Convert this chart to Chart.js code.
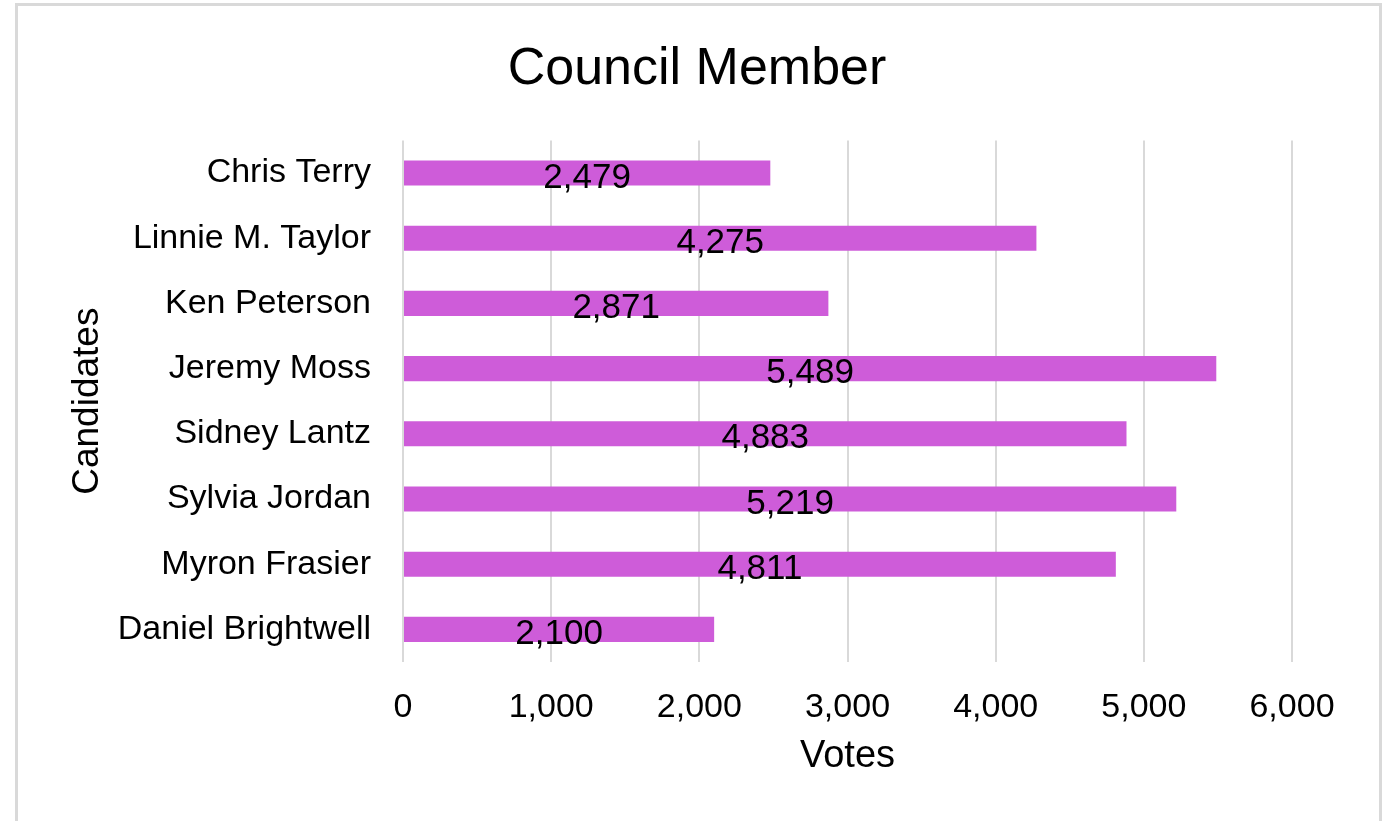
<!DOCTYPE html>
<html>
<head>
<meta charset="utf-8">
<script src="https://cdn.jsdelivr.net/npm/chart.js@4"></script>
<style>
  body { margin: 0; background: #fff; }
  #wrap { position: relative; width: 1394px; height: 821px; overflow: hidden; }
  #frame { position: absolute; left: 15px; top: 3px; width: 1361px; height: 840px; border: 3px solid #d9d9d9; pointer-events: none; }
</style>
</head>
<body>
<div id="wrap">
  <canvas id="myChart" width="1394" height="821"></canvas>
  <div id="frame"></div>
</div>
<script>
var candidates = ['Chris Terry', 'Linnie M. Taylor', 'Ken Peterson', 'Jeremy Moss', 'Sidney Lantz', 'Sylvia Jordan', 'Myron Frasier', 'Daniel Brightwell'];
var votes = [2479, 4275, 2871, 5489, 4883, 5219, 4811, 2100];
var xTicks = [0, 1000, 2000, 3000, 4000, 5000, 6000];

var ctx = document.getElementById('myChart').getContext('2d');
var fontFamily = '"Liberation Sans", Arial, sans-serif';

// value labels drawn in the middle of each bar
var barLabels = {
    id: 'barLabels',
    afterDatasetsDraw: function (chart) {
        var c = chart.ctx;
        var meta = chart.getDatasetMeta(0);
        c.save();
        c.font = '35px ' + fontFamily;
        c.fillStyle = '#000';
        c.textAlign = 'center';
        c.textBaseline = 'middle';
        meta.data.forEach(function (bar, i) {
            var mid = (bar.base + bar.x) / 2;
            c.fillText(votes[i].toLocaleString('en-US'), mid, bar.y + 5);
        });
        c.restore();
    }
};

new Chart(ctx, {
    type: 'bar',
    data: {
        labels: candidates,
        datasets: [{
            data: votes,
            backgroundColor: '#ce5cd9',
            barPercentage: 0.385,
            categoryPercentage: 1
        }]
    },
    options: {
        indexAxis: 'y',
        responsive: false,
        animation: false,
        layout: {
            padding: { left: 102, right: 102, top: 10, bottom: 38 }
        },
        scales: {
            x: {
                min: 0,
                max: 6000,
                afterBuildTicks: function (scale) {
                    scale.ticks = xTicks.map(function (v) { return { value: v }; });
                },
                afterFit: function (scale) { scale.height = 121; },
                border: { display: false },
                grid: { color: '#d9d9d9', lineWidth: 2, drawTicks: false },
                ticks: {
                    color: '#000',
                    padding: 25,
                    font: { family: fontFamily, size: 34 },
                    callback: function (value) { return value.toLocaleString('en-US'); }
                },
                title: {
                    display: true,
                    text: 'Votes',
                    color: '#000',
                    padding: { top: 0, bottom: 4 },
                    font: { family: fontFamily, size: 38 }
                }
            },
            y: {
                afterFit: function (scale) { scale.width = 403 - 102; },
                border: { display: false },
                grid: { display: false },
                ticks: {
                    color: '#000',
                    padding: 24,
                    font: { family: fontFamily, size: 34 }
                },
                title: {
                    display: true,
                    text: 'Candidates',
                    color: '#000',
                    // pulls the rotated title left of the padded area
                    padding: { top: -36, bottom: 0 },
                    font: { family: fontFamily, size: 37 }
                }
            }
        },
        plugins: {
            legend: { display: false },
            tooltip: { enabled: false },
            title: {
                display: true,
                text: 'Council Member',
                color: '#000',
                padding: { top: 28, bottom: 40 },
                font: { family: fontFamily, size: 52, weight: 'normal' }
            }
        }
    },
    plugins: [barLabels]
});
</script>
</body>
</html>
